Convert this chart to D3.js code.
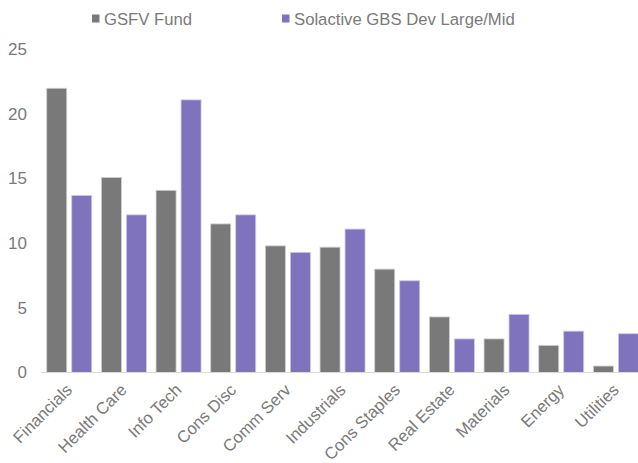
<!DOCTYPE html>
<html>
<head>
<meta charset="utf-8">
<script src="https://cdn.jsdelivr.net/npm/d3@7"></script>
<style>
  html, body { margin: 0; padding: 0; background: #fff; }
  svg { display: block; font-family: "Liberation Sans", Arial, sans-serif; }
</style>
</head>
<body>
<div id="chart"></div>
<script>
const categories = ["Financials", "Health Care", "Info Tech", "Cons Disc", "Comm Serv",
  "Industrials", "Cons Staples", "Real Estate", "Materials", "Energy", "Utilities"];
const seriesNames = ["GSFV Fund", "Solactive GBS Dev Large/Mid"];
const fundValues = [22.0, 15.1, 14.1, 11.5, 9.8, 9.7, 8.0, 4.3, 2.6, 2.1, 0.5];
const indexValues = [13.7, 12.2, 21.1, 12.2, 9.3, 11.1, 7.1, 2.6, 4.5, 3.2, 3.0];
const yTicks = [0, 5, 10, 15, 20, 25];

(function() {
  const width = 638;
  const height = 463;
  const fills = ["#797979", "#8073bd"];
  const strokes = ["#d0d0d0", "#cdc7ea"];
  const textColor = "#7a7a7a";

  const svg = d3.select("#chart")
    .append("svg")
    .attr("width", width)
    .attr("height", height);

  const data = categories.map((c, i) => ({ cat: c, values: [fundValues[i], indexValues[i]] }));

  const x0 = d3.scaleBand()
    .domain(categories)
    .range([41.9, 643.2]);

  const x1 = d3.scaleBand()
    .domain([0, 1])
    .range([4.83, 49.83])
    .paddingInner(0.2);

  const y = d3.scaleLinear()
    .domain([0, 25])
    .range([372.5, 49.5]);

  // Bars
  const groups = svg.append("g")
    .selectAll("g")
    .data(data)
    .join("g")
    .attr("transform", d => `translate(${x0(d.cat)},0)`);

  groups.selectAll("rect")
    .data(d => d.values.map((v, k) => ({ v, k })))
    .join("rect")
    .attr("x", d => x1(d.k))
    .attr("y", d => y(d.v))
    .attr("width", x1.bandwidth())
    .attr("height", d => y(0) - y(d.v))
    .attr("fill", d => fills[d.k])
    .attr("stroke", d => strokes[d.k])
    .attr("stroke-width", 0.8);

  // Baseline
  svg.append("line")
    .attr("x1", 41).attr("x2", width)
    .attr("y1", y(0)).attr("y2", y(0))
    .attr("stroke", "#d9d9d9")
    .attr("stroke-width", 1.2);

  // Y tick labels
  svg.append("g")
    .selectAll("text")
    .data(yTicks)
    .join("text")
    .attr("x", 27)
    .attr("y", d => y(d))
    .attr("dy", "0.34em")
    .attr("text-anchor", "end")
    .attr("font-size", "17px")
    .attr("fill", textColor)
    .text(d => d);

  // X labels (rotated)
  svg.append("g")
    .selectAll("text")
    .data(categories)
    .join("text")
    .attr("transform", d => `translate(${x0(d) + x0.bandwidth() / 2 + 4},${391}) rotate(-45)`)
    .attr("text-anchor", "end")
    .attr("font-size", "16.7px")
    .attr("fill", textColor)
    .text(d => d);

  // Legend
  const legendX = [92, 282];
  const legend = svg.append("g");
  seriesNames.forEach((name, i) => {
    legend.append("rect")
      .attr("x", legendX[i]).attr("y", 14.5)
      .attr("width", 7.5).attr("height", 8)
      .attr("fill", fills[i]);
    legend.append("text")
      .attr("x", legendX[i] + 12)
      .attr("y", 24.5)
      .attr("font-size", "16.7px")
      .attr("fill", textColor)
      .text(name);
  });
})();
</script>
</body>
</html>
